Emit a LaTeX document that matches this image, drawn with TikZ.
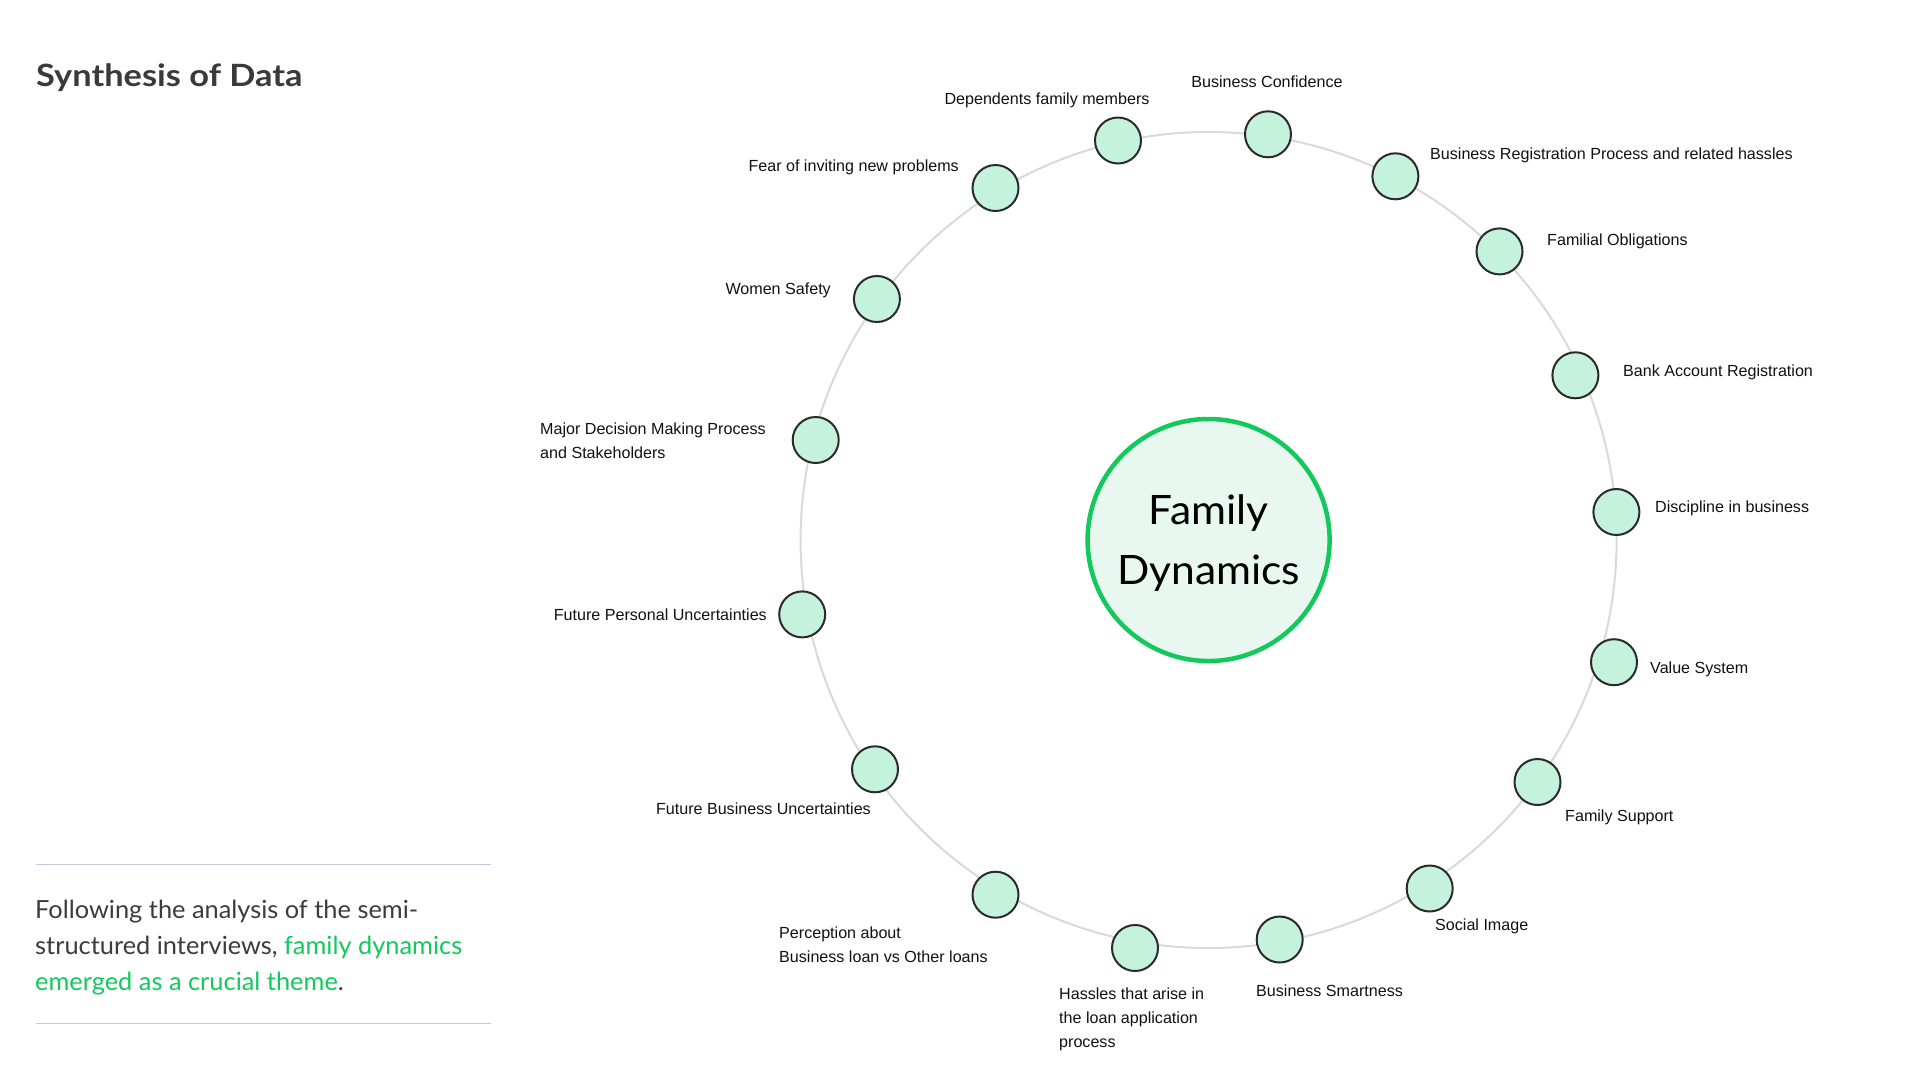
\documentclass[tikz,border=0pt]{standalone}
\usepackage{fontspec}
\setmainfont{Liberation Sans}
\newfontfamily\parafont[FakeStretch=1.015]{Lato}
\newfontfamily\titlefont[FakeStretch=1.12]{Lato}
\newfontfamily\centerfont[FakeStretch=1.05]{Lato}
\definecolor{mint}{HTML}{C5F2DC}
\definecolor{darkstroke}{HTML}{2A2A2A}
\definecolor{bigfill}{HTML}{E8F8F1}
\definecolor{brandgreen}{HTML}{13C95C}
\definecolor{titlegray}{HTML}{3A3A3A}
\definecolor{paragray}{HTML}{3C3C3C}
\definecolor{rulecol}{HTML}{C9C9DD}
\definecolor{ringgray}{HTML}{D9D9D9}
\definecolor{labtext}{HTML}{111111}
\tikzset{
  dot/.style={circle, draw=darkstroke, line width=2pt, fill=mint, minimum size=46pt, inner sep=0pt},
  lab/.style={inner sep=0pt, text=labtext, font=\fontsize{16.1}{24}\selectfont, text height=11.5pt, text depth=0pt, align=left},
  ring/.style={draw=ringgray, line width=2pt},
  rulestyle/.style={draw=rulecol, line width=1.5pt},
  hub/.style={circle, draw=brandgreen, line width=4.5pt, fill=bigfill, minimum size=242pt, inner sep=0pt, align=center, text=black, font=\centerfont\fontsize{40.5}{59.5}\selectfont, text height=88.5pt, text depth=0pt},
}
\begin{document}
\begin{tikzpicture}[x=1pt,y=-1pt]
\useasboundingbox[fill=white] (0,0) rectangle (1920,1080);

% title
\node[inner sep=0pt, anchor=west, text=titlegray, font=\titlefont\bfseries\fontsize{30.7}{36}\selectfont, text height=22pt, text depth=0pt] (title) at (36,75) {Synthesis of Data};

% rules
\coordinate (r1a) at (35.5,864.5);
\coordinate (r1b) at (491,864.5);
\coordinate (r2a) at (35.5,1023.7);
\coordinate (r2b) at (491,1023.7);
\draw[rulestyle] (r1a) -- (r1b);
\draw[rulestyle] (r2a) -- (r2b);

% paragraph
\node[inner sep=0pt, anchor=north west, align=left, text=paragray, font=\parafont\fontsize{25}{36}\selectfont, text height=90pt, text depth=0pt] (para) at (35,900.5)
{Following the analysis of the semi-\\structured interviews, \textcolor{brandgreen}{family dynamics}\\\textcolor{brandgreen}{emerged as a crucial theme}.};

% ring around the hub position
\coordinate (hubc) at (1208.6,540);
\draw[ring] (hubc) circle[radius=408pt];

% center hub
\node[hub] (center) at (hubc) {Family\\Dynamics};

% dots
\node[dot] (d1) at (1118,140.5) {};
\node[dot] (d2) at (1268,134.3) {};
\node[dot] (d3) at (1395.4,176.3) {};
\node[dot] (d4) at (1499.5,251.4) {};
\node[dot] (d5) at (1575.4,375.3) {};
\node[dot] (d6) at (1616.4,512) {};
\node[dot] (d7) at (1614,662.2) {};
\node[dot] (d8) at (1537.5,782) {};
\node[dot] (d9) at (1429.7,888.5) {};
\node[dot] (d10) at (1279.7,939.5) {};
\node[dot] (d11) at (1135,948) {};
\node[dot] (d12) at (995.5,894.7) {};
\node[dot] (d13) at (875,769.3) {};
\node[dot] (d14) at (802.2,614.4) {};
\node[dot] (d15) at (815.7,440) {};
\node[dot] (d16) at (876.9,299) {};
\node[dot] (d17) at (995.5,188) {};

% labels
\node[lab, anchor=center] (l1) at (1047,99) {Dependents family members};
\node[lab, anchor=center] (l2) at (1267,81.6) {Business Confidence};
\node[lab, anchor=west] (l3) at (1430,154) {Business Registration Process and related hassles};
\node[lab, anchor=west] (l4) at (1547,240) {Familial Obligations};
\node[lab, anchor=west] (l5) at (1623,371) {Bank Account Registration};
\node[lab, anchor=west] (l6) at (1655,507) {Discipline in business};
\node[lab, anchor=west] (l7) at (1650,668) {Value System};
\node[lab, anchor=west] (l8) at (1565,816) {Family Support};
\node[lab, anchor=west] (l9) at (1435,925) {Social Image};
\node[lab, anchor=west] (l10) at (1256,991) {Business Smartness};
\node[lab, anchor=north west, text height=59.5pt] (l11) at (1059,987.75) {Hassles that arise in\\the loan application\\process};
\node[lab, anchor=north west, text height=35.5pt] (l12) at (779,927.25) {Perception about\\Business loan vs Other loans};
\node[lab, anchor=east] (l13) at (871,809) {Future Business Uncertainties};
\node[lab, anchor=east] (l14) at (767,615) {Future Personal Uncertainties};
\node[lab, anchor=north west, text height=35.5pt] (l15) at (540,423.25) {Major Decision Making Process\\and Stakeholders};
\node[lab, anchor=east] (l16) at (831,288.6) {Women Safety};
\node[lab, anchor=east] (l17) at (959,165.6) {Fear of inviting new problems};
\end{tikzpicture}
\end{document}
